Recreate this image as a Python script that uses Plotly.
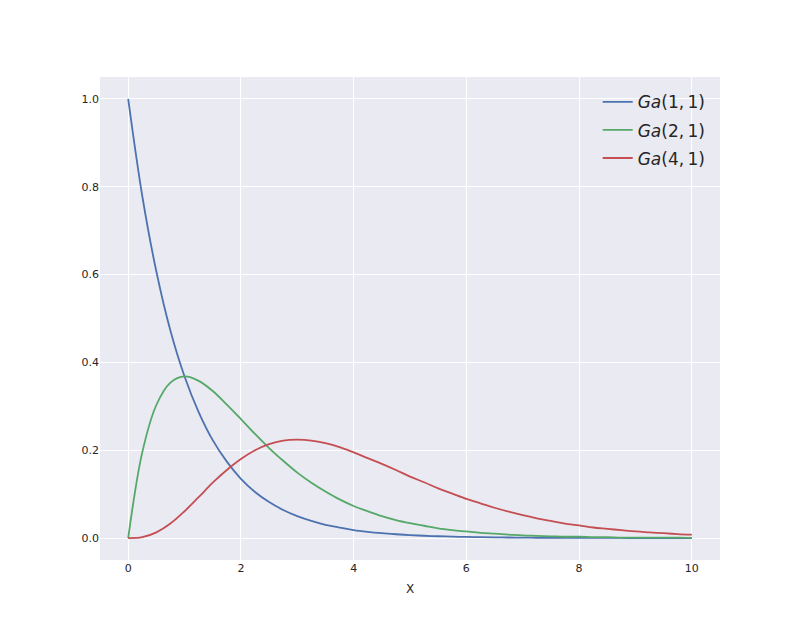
import plotly.graph_objects as go

x_vals = [i * 0.25 for i in range(41)]

ga11 = [1.0, 0.779, 0.607, 0.472, 0.368, 0.287, 0.223, 0.174, 0.135, 0.105,
        0.082, 0.064, 0.050, 0.039, 0.030, 0.024, 0.018, 0.014, 0.011, 0.0087,
        0.0067, 0.0052, 0.0041, 0.0032, 0.0025, 0.0019, 0.0015, 0.0012, 0.0009, 0.0007,
        0.0006, 0.0004, 0.0003, 0.0003, 0.0002, 0.0002, 0.0001, 0.0001, 0.0001, 0.0001, 0.0]

ga21 = [0.0, 0.195, 0.303, 0.354, 0.368, 0.358, 0.335, 0.304, 0.271, 0.237,
        0.205, 0.176, 0.149, 0.126, 0.106, 0.088, 0.073, 0.061, 0.050, 0.041,
        0.034, 0.028, 0.022, 0.018, 0.015, 0.012, 0.010, 0.008, 0.006, 0.005,
        0.004, 0.003, 0.003, 0.002, 0.002, 0.001, 0.001, 0.001, 0.001, 0.001, 0.0005]

ga41 = [0.0, 0.002, 0.013, 0.033, 0.061, 0.093, 0.126, 0.155, 0.180, 0.200,
        0.214, 0.222, 0.224, 0.222, 0.216, 0.207, 0.195, 0.182, 0.169, 0.155,
        0.140, 0.127, 0.113, 0.101, 0.089, 0.079, 0.069, 0.060, 0.052, 0.045,
        0.039, 0.033, 0.029, 0.024, 0.021, 0.018, 0.015, 0.013, 0.011, 0.009, 0.0076]

series = [
    ("<i>Ga</i>(1,\u20091)", ga11, "#4C72B0"),
    ("<i>Ga</i>(2,\u20091)", ga21, "#55A868"),
    ("<i>Ga</i>(4,\u20091)", ga41, "#C44E52"),
]

x_ticks = [0, 2, 4, 6, 8, 10]
y_ticks = [0.0, 0.2, 0.4, 0.6, 0.8, 1.0]
y_tick_labels = ["0.0", "0.2", "0.4", "0.6", "0.8", "1.0"]

fig = go.Figure()
for i, (name, ys, color) in enumerate(series):
    fig.add_trace(go.Scatter(x=x_vals, y=ys, mode="lines", name=name, legendgroup=f"g{i}",
                             line=dict(color=color, width=1.8, shape="spline", smoothing=1.0)))

fig.update_layout(
    width=800, height=640,
    margin=dict(l=92, r=88, t=69, b=88),
    paper_bgcolor="white",
    plot_bgcolor="#EAEAF2",
    font=dict(family="DejaVu Sans, sans-serif", color="#262626", size=11),
    legend=dict(x=0.985, y=0.985, xanchor="right", yanchor="top",
                bgcolor="rgba(0,0,0,0)", font=dict(size=17, color="#262626"),
                itemwidth=30, tracegroupgap=3, traceorder="grouped"),
    showlegend=True,
)
fig.update_xaxes(range=[-0.5, 10.5], tickvals=x_ticks, showgrid=True, gridcolor="white",
                 gridwidth=1, zeroline=False, showline=False, ticks="", ticklen=0,
                 title=dict(text="X", font=dict(size=12, color="#262626"), standoff=10))
fig.update_yaxes(range=[-0.05, 1.05], tickvals=y_ticks, ticktext=y_tick_labels, showgrid=True,
                 gridcolor="white", gridwidth=1, zeroline=False, showline=False, ticks="")

fig.write_html("out.html")
